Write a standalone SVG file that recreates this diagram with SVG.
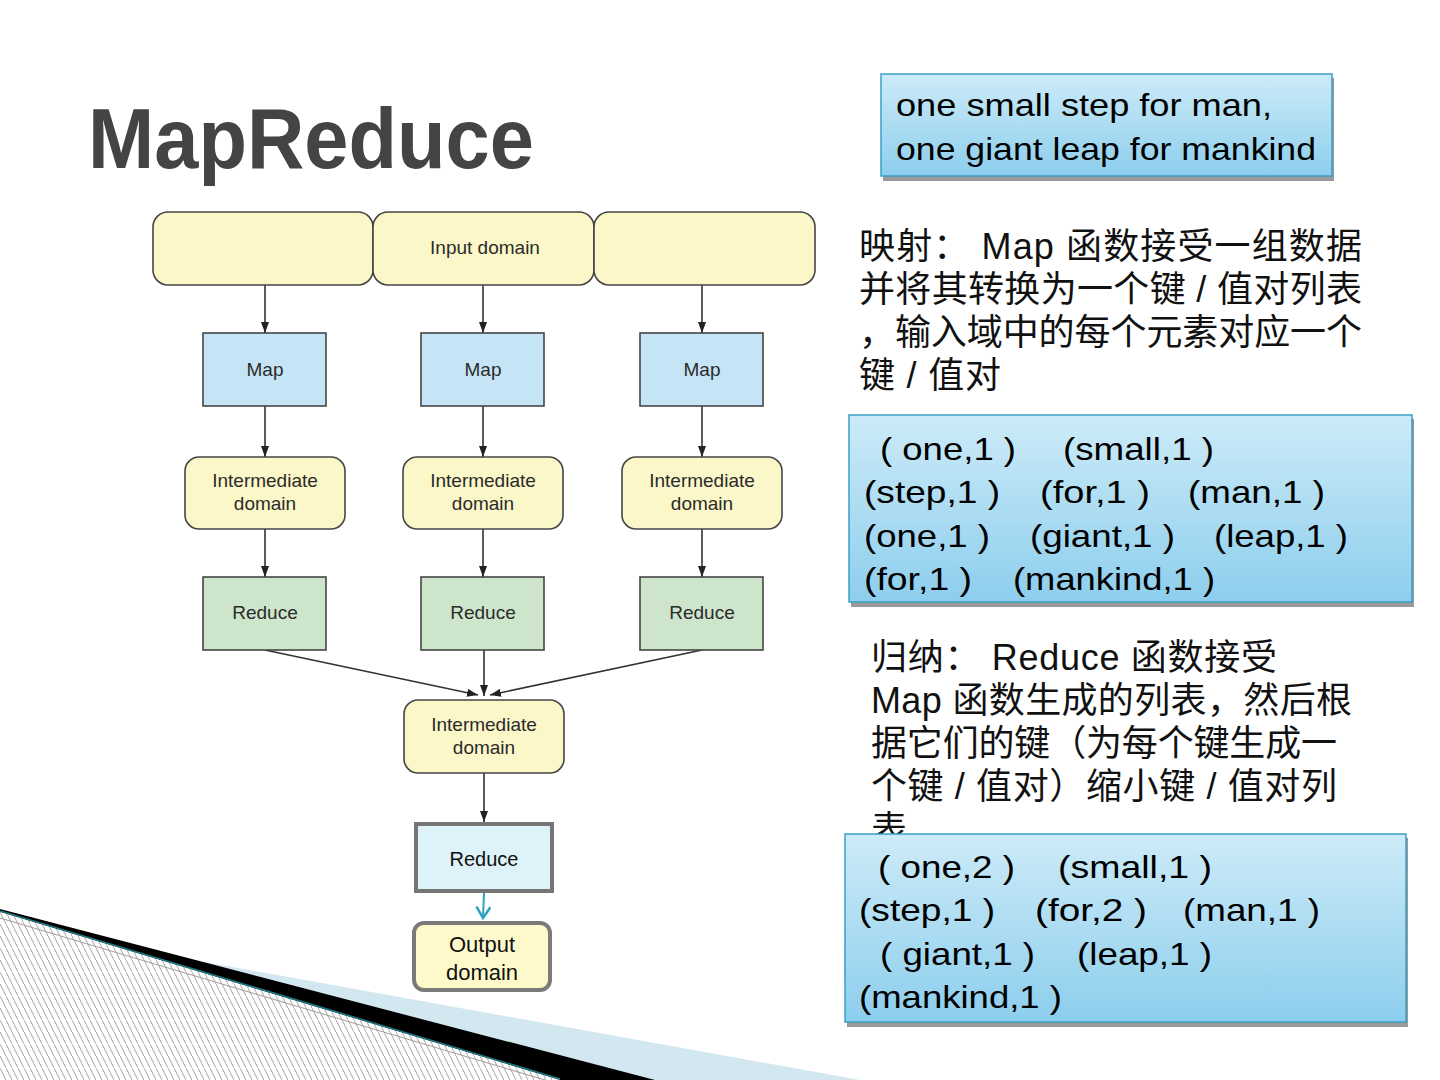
<svg xmlns="http://www.w3.org/2000/svg" width="1440" height="1080" viewBox="0 0 1440 1080">
<style>
.dg{font-family:"Liberation Sans",Arial,sans-serif;font-size:19px;fill:#2b2b2b;text-anchor:middle}
.yl{fill:#fcf7c8;stroke:#454545;stroke-width:1.6}
.bl{fill:#c5e4f6;stroke:#454545;stroke-width:1.6}
.gr{fill:#cde6cb;stroke:#454545;stroke-width:1.6}
.cn{stroke:#333;stroke-width:1.6;fill:none}
.cjk{font-family:"Liberation Sans","Noto Sans CJK SC",sans-serif;font-size:36px;fill:#111}
.dt{font-family:"Liberation Sans",Arial,sans-serif;font-size:32px;fill:#000}
.box{fill:url(#bg);stroke:#3aa0c6;stroke-width:1.5}
.sh{fill:#9a9a9a}
</style>
<defs>
<linearGradient id="bg" x1="0" y1="0" x2="0" y2="1">
<stop offset="0" stop-color="#cdebf8"/>
<stop offset="1" stop-color="#8dceed"/>
</linearGradient>
<marker id="ah" markerUnits="userSpaceOnUse" markerWidth="11" markerHeight="8" refX="11" refY="4" orient="auto">
<path d="M0,0 L11,4 L0,8 Z" fill="#222"/>
</marker>
<marker id="tv" markerUnits="userSpaceOnUse" markerWidth="18" markerHeight="18" refX="12" refY="8" orient="auto">
<path d="M1,1 L12,8 L1,15" fill="none" stroke="#2ea3c2" stroke-width="2.5"/>
</marker>
<pattern id="hatch" patternUnits="userSpaceOnUse" width="6" height="12">
<rect width="6" height="12" fill="#fff"/>
<path d="M-1,-2 L7,14" stroke="#9a9a9a" stroke-width="0.9"/>
</pattern>
</defs>
<rect width="1440" height="1080" fill="#fff"/>

<g id="decoration">
<path d="M0,925 L860,1080 L0,1080 Z" fill="#d3e7f0"/>
<path d="M0,909 L655,1080 L560,1080 L0,912 Z" fill="#000"/>
<path d="M0,912 L560,1080 L0,1080 Z" fill="url(#hatch)"/>
<path d="M0,918 L545,1080" stroke="#a89a9a" stroke-width="1"/>
<path d="M0,911 L560,1079" stroke="#1f7a86" stroke-width="1.6"/>
</g>

<g id="title">
<text x="88" y="168" font-family="'Liberation Sans',Arial,sans-serif" font-size="86" font-weight="bold" fill="#444" textLength="446" lengthAdjust="spacingAndGlyphs">MapReduce</text>
</g>

<g id="connectors">
<path class="cn" d="M265,285 V333" marker-end="url(#ah)"/>
<path class="cn" d="M483,285 V333" marker-end="url(#ah)"/>
<path class="cn" d="M702,285 V333" marker-end="url(#ah)"/>
<path class="cn" d="M265,406 V457" marker-end="url(#ah)"/>
<path class="cn" d="M483,406 V457" marker-end="url(#ah)"/>
<path class="cn" d="M702,406 V457" marker-end="url(#ah)"/>
<path class="cn" d="M265,529 V577" marker-end="url(#ah)"/>
<path class="cn" d="M483,529 V577" marker-end="url(#ah)"/>
<path class="cn" d="M702,529 V577" marker-end="url(#ah)"/>
<path class="cn" d="M265,650 L478,695" marker-end="url(#ah)"/>
<path class="cn" d="M484,650 V696" marker-end="url(#ah)"/>
<path class="cn" d="M702,650 L490,695" marker-end="url(#ah)"/>
<path class="cn" d="M484,773 V822" marker-end="url(#ah)"/>
<path d="M484,893 L483,918" stroke="#2ea3c2" stroke-width="2" fill="none" marker-end="url(#tv)"/>
</g>

<g id="input-domain">
<rect class="yl" x="153" y="212" width="220" height="73" rx="15"/>
<rect class="yl" x="373" y="212" width="221" height="73" rx="15"/>
<rect class="yl" x="594" y="212" width="221" height="73" rx="15"/>
<text class="dg" x="485" y="254">Input domain</text>
</g>

<g id="map1"><rect class="bl" x="203" y="333" width="123" height="73"/><text class="dg" x="265" y="376">Map</text></g>
<g id="map2"><rect class="bl" x="421" y="333" width="123" height="73"/><text class="dg" x="483" y="376">Map</text></g>
<g id="map3"><rect class="bl" x="640" y="333" width="123" height="73"/><text class="dg" x="702" y="376">Map</text></g>

<g id="inter1"><rect class="yl" x="185" y="457" width="160" height="72" rx="14"/><text class="dg" x="265" y="487">Intermediate</text><text class="dg" x="265" y="510">domain</text></g>
<g id="inter2"><rect class="yl" x="403" y="457" width="160" height="72" rx="14"/><text class="dg" x="483" y="487">Intermediate</text><text class="dg" x="483" y="510">domain</text></g>
<g id="inter3"><rect class="yl" x="622" y="457" width="160" height="72" rx="14"/><text class="dg" x="702" y="487">Intermediate</text><text class="dg" x="702" y="510">domain</text></g>

<g id="reduce1"><rect class="gr" x="203" y="577" width="123" height="73"/><text class="dg" x="265" y="619">Reduce</text></g>
<g id="reduce2"><rect class="gr" x="421" y="577" width="123" height="73"/><text class="dg" x="483" y="619">Reduce</text></g>
<g id="reduce3"><rect class="gr" x="640" y="577" width="123" height="73"/><text class="dg" x="702" y="619">Reduce</text></g>

<g id="inter-center"><rect class="yl" x="404" y="700" width="160" height="73" rx="14"/><text class="dg" x="484" y="731">Intermediate</text><text class="dg" x="484" y="754">domain</text></g>

<g id="reduce-final"><rect x="416" y="824" width="136" height="67" fill="#ddf3f9" stroke="#767676" stroke-width="4"/><text x="484" y="866" font-family="'Liberation Sans',Arial,sans-serif" font-size="20" fill="#111" text-anchor="middle">Reduce</text></g>

<g id="output-domain"><rect x="414" y="923" width="136" height="67" rx="10" fill="#fdf9cb" stroke="#7a7a7a" stroke-width="4"/><text x="482" y="952" font-family="'Liberation Sans',Arial,sans-serif" font-size="22" fill="#111" text-anchor="middle">Output</text><text x="482" y="980" font-family="'Liberation Sans',Arial,sans-serif" font-size="22" fill="#111" text-anchor="middle">domain</text></g>

<g id="quote-box">
<rect class="sh" x="883" y="78" width="451" height="103"/>
<rect class="box" x="881" y="74" width="451" height="102"/>
<text class="dt" x="896" y="116" font-size="33" textLength="376" lengthAdjust="spacingAndGlyphs">one small step for man,</text>
<text class="dt" x="896" y="160" font-size="33" textLength="420" lengthAdjust="spacingAndGlyphs">one giant leap for mankind</text>
</g>

<g id="map-desc">
<text class="cjk" x="859" y="259" textLength="503" lengthAdjust="spacing" xml:space="preserve">映射： Map 函数接受一组数据</text>
<text class="cjk" x="859" y="302" textLength="503" lengthAdjust="spacing" xml:space="preserve">并将其转换为一个键 / 值对列表</text>
<text class="cjk" x="859" y="345" textLength="503" lengthAdjust="spacing">，输入域中的每个元素对应一个</text>
<text class="cjk" x="859" y="388" textLength="142" lengthAdjust="spacing" xml:space="preserve">键 / 值对</text>
</g>

<g id="map-result">
<rect class="sh" x="851" y="419" width="563" height="188"/>
<rect class="box" x="849" y="415" width="563" height="187"/>
<text class="dt" x="880" y="460" textLength="136" lengthAdjust="spacingAndGlyphs">( one,1 )</text>
<text class="dt" x="1063" y="460" textLength="151" lengthAdjust="spacingAndGlyphs">(small,1 )</text>
<text class="dt" x="864" y="503" textLength="136" lengthAdjust="spacingAndGlyphs">(step,1 )</text>
<text class="dt" x="1040" y="503" textLength="110" lengthAdjust="spacingAndGlyphs">(for,1 )</text>
<text class="dt" x="1188" y="503" textLength="137" lengthAdjust="spacingAndGlyphs">(man,1 )</text>
<text class="dt" x="864" y="547" textLength="126" lengthAdjust="spacingAndGlyphs">(one,1 )</text>
<text class="dt" x="1030" y="547" textLength="145" lengthAdjust="spacingAndGlyphs">(giant,1 )</text>
<text class="dt" x="1214" y="547" textLength="134" lengthAdjust="spacingAndGlyphs">(leap,1 )</text>
<text class="dt" x="864" y="590" textLength="108" lengthAdjust="spacingAndGlyphs">(for,1 )</text>
<text class="dt" x="1013" y="590" textLength="202" lengthAdjust="spacingAndGlyphs">(mankind,1 )</text>
</g>

<g id="reduce-desc">
<text class="cjk" x="871" y="670" textLength="406" lengthAdjust="spacing" xml:space="preserve">归纳： Reduce 函数接受</text>
<text class="cjk" x="871" y="713" textLength="481" lengthAdjust="spacing" xml:space="preserve">Map 函数生成的列表，然后根</text>
<text class="cjk" x="871" y="756" textLength="466" lengthAdjust="spacing">据它们的键（为每个键生成一</text>
<text class="cjk" x="871" y="799" textLength="466" lengthAdjust="spacing" xml:space="preserve">个键 / 值对）缩小键 / 值对列</text>
<text class="cjk" x="871" y="842">表</text>
</g>

<g id="reduce-result">
<rect class="sh" x="847" y="838" width="561" height="189"/>
<rect class="box" x="845" y="834" width="561" height="188"/>
<text class="dt" x="878" y="878" textLength="137" lengthAdjust="spacingAndGlyphs">( one,2 )</text>
<text class="dt" x="1058" y="878" textLength="154" lengthAdjust="spacingAndGlyphs">(small,1 )</text>
<text class="dt" x="859" y="921" textLength="136" lengthAdjust="spacingAndGlyphs">(step,1 )</text>
<text class="dt" x="1035" y="921" textLength="112" lengthAdjust="spacingAndGlyphs">(for,2 )</text>
<text class="dt" x="1183" y="921" textLength="137" lengthAdjust="spacingAndGlyphs">(man,1 )</text>
<text class="dt" x="880" y="965" textLength="155" lengthAdjust="spacingAndGlyphs">( giant,1 )</text>
<text class="dt" x="1077" y="965" textLength="135" lengthAdjust="spacingAndGlyphs">(leap,1 )</text>
<text class="dt" x="859" y="1008" textLength="203" lengthAdjust="spacingAndGlyphs">(mankind,1 )</text>
</g>
</svg>
